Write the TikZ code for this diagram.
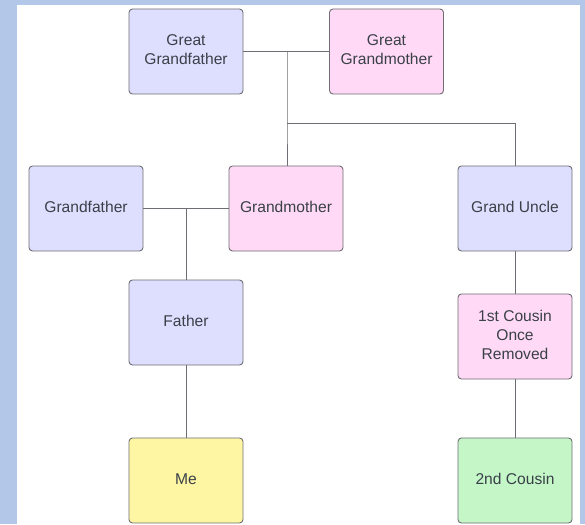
\documentclass[tikz,border=0pt]{standalone}
\usepackage{fontspec}
\setmainfont{Liberation Sans}
\definecolor{bgblue}{HTML}{B3C8E8}
\definecolor{lav}{HTML}{DEDEFF}
\definecolor{pinkf}{HTML}{FFD9F5}
\definecolor{yel}{HTML}{FFF6A3}
\definecolor{grn}{HTML}{C4F6C8}
\definecolor{edge}{HTML}{6E6E74}
\definecolor{txt}{HTML}{3A4048}
% centred name block, lifted slightly above the box centre
\newcommand{\pname}[1]{\raisebox{2.5pt}{\begin{tabular}{@{}c@{}}#1\end{tabular}}}
\begin{document}
\begin{tikzpicture}[x=1pt,y=-1pt,
  person/.style={draw=edge, line width=0.9pt, rounded corners=3.5pt,
    minimum width=114pt, minimum height=85pt, inner sep=0pt,
    text=txt, font=\fontsize{15.6}{19}\selectfont},
  link/.style={draw=edge, line width=0.9pt}]
  % page background and white sheet
  \fill[bgblue] (0,0) rectangle (585,524);
  \fill[white] (17,5) rectangle (580,524);
  \useasboundingbox (0,0) rectangle (585,524);

  % people
  \node[person, fill=lav]   (ggf) at (186,51.5)  {\pname{Great\\Grandfather}};
  \node[person, fill=pinkf] (ggm) at (386.5,51.5) {\pname{Great\\Grandmother}};
  \node[person, fill=lav]   (gf)  at (86,208.5)  {\pname{Grandfather}};
  \node[person, fill=pinkf] (gm)  at (286,208.5) {\pname{Grandmother}};
  \node[person, fill=lav]   (gu)  at (515,208.5) {\pname{Grand Uncle}};
  \node[person, fill=lav]   (fa)  at (186,322.5) {\pname{Father}};
  \node[person, fill=pinkf] (fc)  at (515,336.5) {\pname{1st Cousin\\Once\\Removed}};
  \node[person, fill=yel]   (me)  at (186,480.5) {\pname{Me}};
  \node[person, fill=grn]   (sc)  at (515,480.5) {\pname{2nd Cousin}};

  % couple junctions
  \coordinate (j1) at (287,51.5);
  \coordinate (j2) at (287,123);
  \coordinate (j3) at (515,123);
  \coordinate (j4) at (186,208.5);

  \draw[link] (ggf.east) -- (ggm.west);
  \draw[link] (j1) -- (j2) -- (gm.north -| j2);
  \draw[link] (j2) -- (j3) -- (gu.north);
  \draw[link] (gf.east) -- (gm.west);
  \draw[link] (j4) -- (fa.north);
  \draw[link] (fa.south) -- (me.north);
  \draw[link] (gu.south) -- (fc.north);
  \draw[link] (fc.south) -- (sc.north);
\end{tikzpicture}
\end{document}
